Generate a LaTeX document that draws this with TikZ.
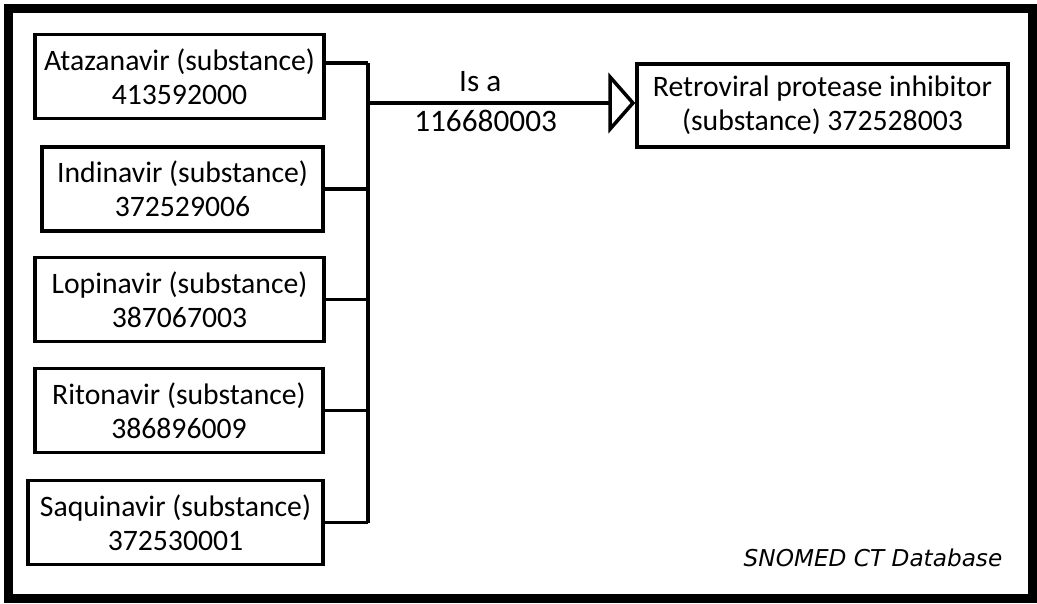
\documentclass[tikz,border=0pt]{standalone}
\usepackage{fontspec}
\setmainfont{Carlito}
\newfontfamily\notefont{DejaVu Sans}
\usetikzlibrary{arrows.meta,positioning}

\tikzset{
  drugbox/.style={draw,line width=0.07cm,minimum height=1.68cm,inner sep=0pt,
    align=center,font=\fontsize{16.9}{19.2}\selectfont},
  link/.style={line width=0.07cm},
  isa/.style={line width=0.07cm,-{Triangle[open,length=0.40cm,width=0.9cm,line width=0.07cm,scale=1.35]}}
}

\begin{document}
\begin{tikzpicture}[x=0.02cm,y=-0.02cm]
  \useasboundingbox (0,0) rectangle (1037,603);
  \draw[line width=0.18cm] (8.5,8.5) rectangle (1032.5,598);

  % drug boxes on the left
  \foreach \i/\cx/\cy/\w/\drug/\code in {
      1/179.5/76.5/5.78/Atazanavir/413592000,
      2/182.5/189/5.62/Indinavir/372529006,
      3/179.5/299.5/5.78/Lopinavir/387067003,
      4/179/410.5/5.76/Ritonavir/386896009,
      5/175.5/522.5/5.9/Saquinavir/372530001} {
    \node[drugbox,minimum width=\w cm] (b\i) at (\cx,\cy) {\drug{} (substance)\\\code};
  }

  \node[drugbox,minimum width=7.42cm,minimum height=1.66cm] (inhib) at (822.5,105.5)
    {Retroviral protease inhibitor\\(substance) 372528003};

  % bus joining the boxes
  \coordinate (bustop) at (368,63);
  \coordinate (busbot) at (368,523);
  \coordinate (hub) at (368,103);
  \draw[link] (bustop) -- (busbot);
  \draw[link] (b1.east |- bustop) -- (bustop);
  \foreach \i in {2,...,5}
    \draw[link] (b\i.east) -- (b\i.east -| bustop);

  \draw[isa] (hub) -- (hub -| inhib.west)
    node[pos=0.42,above=2pt,font=\fontsize{17.8}{20}\selectfont] (rel) {Is a}
    node[pos=0.44,below=0pt,font=\fontsize{17.8}{20}\selectfont] (relid) {116680003};

  \node[font=\notefont\itshape\fontsize{13.2}{16}\selectfont] (db) at (873,558) {SNOMED CT Database};
\end{tikzpicture}
\end{document}
